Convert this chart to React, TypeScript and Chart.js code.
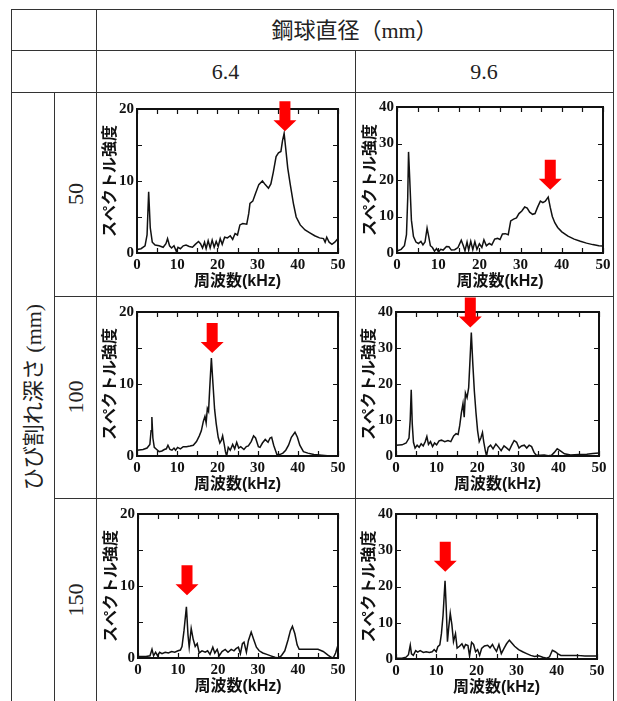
import React, { useEffect, useRef } from "react";
import { Chart, registerables } from "chart.js";

Chart.register(...registerables);

// ---------- texts / categories ----------
const HEADER_TITLE = "鋼球直径（mm）";
const ROW_TITLE = "ひび割れ深さ (mm)";
const BALL_DIAMETERS = ["6.4", "9.6"];
const CRACK_DEPTHS = ["50", "100", "150"];
const X_TITLE = "周波数(kHz)";
const Y_TITLE = "スペクトル強度";

// ---------- axes ----------
const X_MIN = 0;
const X_MAX = 50;
const X_STEP = 10;
const Y_STEP = 10;
const X_MINOR_TICKS = [0, 5, 10, 15, 20, 25, 30, 35, 40, 45, 50];
const Y_MINOR_TICKS_20 = [0, 5, 10, 15, 20];
const Y_MINOR_TICKS_40 = [0, 10, 20, 30, 40];

// ---------- series: [frequency kHz, spectral intensity] ----------
const spec_d50_b64: [number, number][] = [
  [0, 0.5], [1, 0.6], [2, 1.0], [2.5, 2.5], [2.9, 8.5], [3.3, 3.5], [3.8, 1.5], [4.5, 1.1], [5.5, 1.0],
  [6.5, 0.8], [7.2, 1.3], [7.6, 2.0], [8.1, 1.0], [8.6, 0.7], [9.2, 1.0], [9.8, 0.2], [10.2, 0.8],
  [10.8, 0.6], [11.5, 1.0], [12.2, 1.1], [13, 0.9], [13.8, 0.8], [14.5, 1.2], [15.3, 1.6], [15.8, 1.3],
  [16.3, 0.7], [16.8, 1.5], [17.2, 0.6], [17.7, 1.7], [18.2, 0.7], [18.7, 1.8], [19.2, 0.8], [19.7, 1.6],
  [20.2, 0.9], [20.7, 2.0], [21.2, 1.2], [21.8, 2.2], [22.5, 2.1], [23.2, 2.4], [23.8, 1.9], [24.4, 2.7],
  [25, 2.5], [25.6, 3.9], [26.3, 4.1], [27.3, 4.0], [27.8, 5.5], [28.1, 6.9], [28.8, 7.2], [29.5, 8.3],
  [30.3, 9.5], [31.2, 10.0], [31.9, 9.5], [32.7, 9.0], [33.3, 9.6], [33.9, 11.2], [34.6, 13.4],
  [35.2, 13.9], [35.8, 14.1], [36.2, 15.6], [36.6, 16.6], [37.0, 14.5], [37.5, 11.8], [38.1, 9.6],
  [38.9, 6.9], [39.6, 5.0], [40.6, 3.9], [41.8, 3.2], [43.0, 2.8], [44.2, 2.4], [45.4, 2.1], [46.4, 2.0],
  [46.8, 1.5], [47.2, 2.2], [47.8, 1.5], [48.5, 1.2], [49.2, 1.5], [50, 2.0],
];

const spec_d50_b96: [number, number][] = [
  [0, 0.5], [1, 1.0], [1.8, 2.0], [2.3, 5], [2.6, 15], [2.8, 27.7], [3.1, 20], [3.5, 9], [4.0, 4.5],
  [4.6, 3.0], [5.2, 2.6], [5.8, 3.2], [6.3, 2.2], [6.8, 3.0], [7.3, 6.8], [7.7, 4.5], [8.1, 2.0],
  [8.6, 1.5], [9.1, 0.5], [9.6, 1.2], [10.1, 0.3], [10.6, 1.0], [11.2, 0.8], [12.0, 1.8], [12.6, 1.7],
  [13.2, 0.8], [14.0, 0.9], [14.8, 1.5], [15.6, 3.5], [16.1, 2.0], [16.5, 0.6], [17.0, 3.0], [17.4, 0.8],
  [17.9, 3.2], [18.4, 0.9], [18.9, 3.1], [19.4, 1.0], [20.0, 2.5], [20.6, 1.5], [21.1, 3.6], [21.7, 2.0],
  [22.4, 2.6], [23.0, 2.2], [23.7, 3.8], [24.4, 4.0], [25.0, 3.7], [25.6, 5.2], [26.3, 5.3], [27.0, 5.0],
  [27.6, 8.8], [28.3, 9.3], [29.0, 9.6], [29.6, 10.8], [30.3, 11.5], [31.0, 12.6], [31.6, 12.3],
  [32.2, 11.2], [32.9, 10.6], [33.5, 10.8], [34.1, 12.5], [34.8, 14.2], [35.4, 13.8], [36.0, 14.2],
  [36.7, 15.3], [37.2, 12.5], [37.7, 10.0], [38.3, 8.3], [39.0, 7.0], [40.0, 5.8], [41.5, 4.6],
  [43.0, 3.8], [44.5, 3.2], [46.0, 2.7], [47.5, 2.3], [49.0, 2.0], [50, 1.9],
];

const spec_d100_b64: [number, number][] = [
  [0, 0.8], [1.5, 0.9], [2.5, 1.1], [3.2, 1.6], [3.5, 3.5], [3.7, 5.4], [3.95, 2.5], [4.3, 1.2],
  [4.9, 0.9], [5.5, 0.6], [6.2, 0.7], [6.8, 0.9], [7.3, 1.0], [7.7, 1.5], [8.2, 0.9], [8.7, 0.8],
  [9.2, 1.1], [9.6, 0.8], [10.1, 1.2], [10.8, 1.0], [11.5, 1.3], [12.3, 1.3], [13.2, 1.4], [14.0, 1.5],
  [14.8, 2.0], [15.5, 2.8], [16.0, 3.5], [16.5, 4.8], [16.9, 5.5], [17.2, 4.6], [17.5, 6.6], [17.8, 6.2],
  [18.1, 9.5], [18.5, 13.6], [18.9, 10.0], [19.3, 6.5], [19.7, 4.5], [20.2, 2.6], [20.6, 1.8],
  [21.0, 2.2], [21.3, 2.8], [21.7, 1.6], [22.0, 0.6], [22.3, 0.0], [22.7, 1.2], [23.2, 0.8], [23.8, 1.6],
  [24.3, 1.0], [24.8, 1.9], [25.3, 1.1], [25.8, 1.3], [26.6, 0.9], [27.2, 1.3], [27.7, 1.4], [28.4, 2.0],
  [29.0, 2.8], [29.5, 2.5], [30.2, 1.3], [30.6, 1.2], [31.2, 1.8], [31.9, 2.3], [32.6, 1.9], [33.1, 2.5],
  [33.5, 2.6], [34.0, 1.5], [34.8, 0.2], [35.5, 0.2], [36.3, 0.4], [37.0, 0.8], [37.7, 1.5], [38.4, 2.6],
  [39.3, 3.3], [39.9, 2.6], [40.5, 1.5], [41.4, 0.6], [42.5, 0.4], [44.0, 0.2], [46, 0.1], [48, 0.0],
  [50, 0.0],
];

const spec_d100_b96: [number, number][] = [
  [0, 3.0], [1.5, 3.1], [2.5, 3.6], [3.2, 5.0], [3.5, 10], [3.75, 18.4], [4.0, 9], [4.3, 3.8],
  [4.7, 2.2], [5.2, 3.0], [5.7, 2.4], [6.2, 3.4], [6.7, 2.8], [7.2, 4.0], [7.6, 5.4], [8.0, 3.2],
  [8.5, 4.0], [9.0, 2.6], [9.5, 3.6], [10.0, 3.1], [10.6, 4.2], [11.2, 4.4], [12.0, 4.0], [12.8, 4.3],
  [13.5, 4.0], [14.2, 5.6], [14.8, 6.2], [15.3, 6.0], [15.7, 8.5], [16.1, 12.0], [16.5, 14.6],
  [16.8, 10.8], [17.1, 17.5], [17.5, 16.2], [17.9, 19.0], [18.2, 26], [18.55, 34.3], [18.9, 26],
  [19.3, 18], [19.7, 12], [20.1, 7], [20.5, 4.0], [20.9, 5.0], [21.3, 6.5], [21.6, 4.0], [22.0, 1.5],
  [22.3, 0.0], [22.7, 2.4], [23.3, 3.0], [23.9, 2.0], [24.6, 3.3], [25.3, 2.4], [25.9, 1.5], [26.6, 2.8],
  [27.3, 2.2], [27.9, 1.6], [28.5, 3.0], [29.1, 4.3], [29.7, 3.8], [30.3, 2.2], [30.9, 2.8], [31.6, 3.0],
  [32.2, 2.2], [32.8, 3.0], [33.4, 2.6], [34.0, 1.0], [34.5, 0.3], [35.5, 0.2], [36.5, 0.3], [37.5, 0.1],
  [38.3, 0.2], [39.0, 1.0], [39.7, 2.0], [40.5, 1.4], [41.5, 0.6], [43.0, 0.3], [45.0, 0.4], [47.0, 0.5],
  [48.5, 0.7], [50, 0.8],
];

const spec_d150_b64: [number, number][] = [
  [0, 0.2], [2.0, 0.2], [3.0, 0.3], [3.5, 1.2], [3.9, 0.3], [4.4, 0.8], [4.9, 0.3], [5.4, 0.8],
  [6.0, 0.6], [6.8, 0.8], [7.6, 0.7], [8.4, 0.9], [9.2, 0.8], [10.0, 1.0], [10.6, 1.1], [11.0, 1.6],
  [11.5, 3.8], [12.1, 7.1], [12.5, 3.2], [12.8, 1.5], [13.3, 4.1], [13.8, 2.6], [14.3, 1.6], [14.8, 2.0],
  [15.3, 0.7], [16.0, 1.0], [16.8, 0.8], [17.4, 1.0], [18.0, 0.5], [18.7, 1.5], [19.2, 0.7], [19.8, 1.2],
  [20.3, 0.3], [21.0, 0.9], [21.8, 1.2], [22.5, 0.8], [23.3, 1.2], [24.0, 1.0], [24.5, 1.3], [25.1, 1.5],
  [25.6, 0.6], [26.1, 2.0], [26.5, 2.2], [27.1, 0.8], [27.6, 2.4], [28.3, 3.6], [28.9, 2.6], [29.6, 1.5],
  [30.3, 1.0], [31.2, 0.7], [32.2, 0.5], [33.2, 0.3], [34.2, 0.1], [35.0, 0.0], [35.8, 0.3], [36.7, 1.0],
  [37.5, 2.5], [38.1, 3.8], [38.6, 4.4], [39.2, 3.4], [39.8, 1.8], [40.3, 1.2], [41.5, 1.2], [43.0, 1.2],
  [45.0, 1.2], [46.3, 0.9], [47.5, 0.4], [48.3, 0.1], [48.8, 0.0], [49.4, 0.7], [50, 1.8],
];

const spec_d150_b96: [number, number][] = [
  [0, 0.2], [1.5, 0.2], [2.5, 0.5], [3.1, 1.2], [3.55, 3.8], [3.85, 1.4], [4.3, 1.0], [4.9, 2.3],
  [5.4, 1.9], [6.0, 2.3], [6.8, 1.8], [7.5, 2.0], [8.3, 1.8], [9.0, 2.0], [9.5, 2.6], [10.0, 2.0],
  [10.4, 3.4], [10.9, 3.9], [11.3, 7.0], [11.7, 12.0], [12.2, 21.6], [12.5, 14.0], [12.8, 4.8],
  [13.1, 8.5], [13.5, 12.6], [13.9, 9.5], [14.3, 4.8], [14.8, 7.0], [15.2, 3.0], [15.8, 3.5], [16.4, 4.2],
  [16.9, 3.0], [17.3, 4.0], [17.9, 3.7], [18.3, 0.8], [18.8, 4.6], [19.3, 4.0], [19.8, 2.0], [20.3, 2.6],
  [20.8, 1.0], [21.3, 2.9], [22.0, 3.6], [22.8, 3.8], [23.4, 3.1], [24.0, 4.0], [24.5, 2.9], [25.0, 2.1],
  [25.6, 4.0], [26.2, 1.5], [26.9, 3.0], [27.5, 4.2], [28.2, 5.2], [28.8, 4.4], [29.5, 3.5], [30.5, 2.6],
  [31.5, 2.0], [32.5, 1.5], [33.5, 1.0], [34.5, 0.7], [35.5, 0.9], [36.5, 0.5], [37.5, 0.2], [38.2, 0.6],
  [38.9, 2.4], [39.6, 2.0], [40.3, 1.4], [41.0, 1.0], [43.0, 1.0], [45.0, 1.0], [47.0, 0.8], [48.5, 0.8],
  [50, 0.8],
];

// red arrows: [frequency kHz at arrow, intensity at arrow tip]
const arrow_d50_b64 = [36.8, 16.9];
const arrow_d50_b96 = [37.2, 17.3];
const arrow_d100_b64 = [18.7, 14.3];
const arrow_d100_b96 = [18.3, 35.7];
const arrow_d150_b64 = [12.25, 8.7];
const arrow_d150_b96 = [12.25, 24.1];

// y maxima per column
const Y_MAX_BY_BALL = [20, 40];

// ---------- layout (page pixels) ----------
const PAD_L = 40; // y-axis band
const PAD_R = 12;
const PAD_T = 24;
const PAD_B = 42; // x-axis band

const PANELS = [
  { data: spec_d50_b64, yMax: Y_MAX_BY_BALL[0], yMinor: Y_MINOR_TICKS_20, arrow: arrow_d50_b64, plot: [137, 109, 338, 253] },
  { data: spec_d50_b96, yMax: Y_MAX_BY_BALL[1], yMinor: Y_MINOR_TICKS_40, arrow: arrow_d50_b96, plot: [397, 107, 603, 253] },
  { data: spec_d100_b64, yMax: Y_MAX_BY_BALL[0], yMinor: Y_MINOR_TICKS_20, arrow: arrow_d100_b64, plot: [137, 312, 338, 456] },
  { data: spec_d100_b96, yMax: Y_MAX_BY_BALL[1], yMinor: Y_MINOR_TICKS_40, arrow: arrow_d100_b96, plot: [396, 312, 599, 456] },
  { data: spec_d150_b64, yMax: Y_MAX_BY_BALL[0], yMinor: Y_MINOR_TICKS_20, arrow: arrow_d150_b64, plot: [138, 514, 338, 658] },
  { data: spec_d150_b96, yMax: Y_MAX_BY_BALL[1], yMinor: Y_MINOR_TICKS_40, arrow: arrow_d150_b96, plot: [396, 514, 597, 659] },
];

const TICK_FONT = { family: '"Liberation Serif", "Times New Roman", serif', weight: "bold" as const, size: 15 };
const TITLE_FONT = { family: '"Liberation Sans", "Noto Sans CJK JP", sans-serif', weight: "bold" as const, size: 16 };

const framePlugin = {
  id: "frameTicks",
  afterDatasetsDraw(chart: any, _args: any, opts: any) {
    const { ctx, chartArea, scales } = chart;
    const { left, right, top, bottom } = chartArea;
    const xs = scales.x;
    const ys = scales.y;
    ctx.save();
    ctx.strokeStyle = "#111";
    ctx.lineWidth = 1.2;
    ctx.beginPath();
    for (const v of opts.xMinor) {
      const px = Math.round(xs.getPixelForValue(v)) + 0.5;
      ctx.moveTo(px, bottom);
      ctx.lineTo(px, bottom - 5);
      ctx.moveTo(px, top);
      ctx.lineTo(px, top + 5);
    }
    for (const v of opts.yMinor) {
      const py = Math.round(ys.getPixelForValue(v)) + 0.5;
      ctx.moveTo(left, py);
      ctx.lineTo(left + 5, py);
      ctx.moveTo(right, py);
      ctx.lineTo(right - 5, py);
    }
    ctx.stroke();
    ctx.lineWidth = 2;
    ctx.strokeRect(left, top, right - left, bottom - top);

    // red arrow pointing down at the peak
    const ax = xs.getPixelForValue(opts.arrow[0]);
    const ay = ys.getPixelForValue(opts.arrow[1]);
    const headH = 11;
    const headW = 11.5;
    const shaftW = 5.5;
    const total = 30;
    ctx.fillStyle = "#ff0000";
    ctx.beginPath();
    ctx.moveTo(ax, ay);
    ctx.lineTo(ax - headW, ay - headH);
    ctx.lineTo(ax - shaftW, ay - headH);
    ctx.lineTo(ax - shaftW, ay - total);
    ctx.lineTo(ax + shaftW, ay - total);
    ctx.lineTo(ax + shaftW, ay - headH);
    ctx.lineTo(ax + headW, ay - headH);
    ctx.closePath();
    ctx.fill();
    ctx.restore();
  },
};

function Panel({ cfg }: { cfg: any }) {
  const ref = useRef<HTMLCanvasElement>(null);
  const [l, t, r, b] = cfg.plot;
  const cw = r - l + PAD_L + PAD_R;
  const ch = b - t + PAD_T + PAD_B;
  useEffect(() => {
    const chart = new Chart(ref.current as HTMLCanvasElement, {
      type: "line",
      data: {
        datasets: [
          {
            data: cfg.data.map(([x, y]: [number, number]) => ({ x, y })),
            borderColor: "#111",
            borderWidth: 1.5,
            pointRadius: 0,
            tension: 0,
            fill: false,
          },
        ],
      },
      options: {
        animation: false,
        responsive: false,
        maintainAspectRatio: false,
        devicePixelRatio: 1,
        events: [],
        layout: { padding: { left: 0, top: PAD_T, right: PAD_R, bottom: 0 } },
        plugins: {
          legend: { display: false },
          tooltip: { enabled: false },
          frameTicks: { xMinor: X_MINOR_TICKS, yMinor: cfg.yMinor, arrow: cfg.arrow },
        } as any,
        scales: {
          x: {
            type: "linear",
            min: X_MIN,
            max: X_MAX,
            grid: { display: false, drawTicks: false },
            border: { display: false },
            ticks: { stepSize: X_STEP, padding: 3, color: "#111", font: TICK_FONT, maxRotation: 0, autoSkip: false },
            title: { display: true, text: X_TITLE, color: "#111", font: TITLE_FONT, padding: { top: 0, bottom: 4 } },
            afterFit: (s: any) => {
              s.height = PAD_B;
            },
          },
          y: {
            type: "linear",
            min: 0,
            max: cfg.yMax,
            grid: { display: false, drawTicks: false },
            border: { display: false },
            ticks: { stepSize: Y_STEP, padding: 3, color: "#111", font: TICK_FONT, autoSkip: false },
            title: { display: true, text: Y_TITLE, color: "#111", font: TITLE_FONT, padding: { top: 4, bottom: 0 } },
            afterFit: (s: any) => {
              s.width = PAD_L;
            },
          },
        },
      },
      plugins: [framePlugin],
    });
    return () => chart.destroy();
  }, []);
  return (
    <canvas
      ref={ref}
      width={cw}
      height={ch}
      style={{ position: "absolute", left: l - PAD_L, top: t - PAD_T, width: cw, height: ch }}
    />
  );
}

const LINE_COLOR = "#333";
const TEXT_FONT = '"Liberation Serif", "Noto Sans CJK JP", serif';

function HLine({ y, x1, x2 }: { y: number; x1: number; x2: number }) {
  return <div style={{ position: "absolute", left: x1, top: y, width: x2 - x1 + 1, height: 1, background: LINE_COLOR }} />;
}
function VLine({ x, y1, y2 }: { x: number; y1: number; y2: number }) {
  return <div style={{ position: "absolute", left: x, top: y1, width: 1, height: y2 - y1, background: LINE_COLOR }} />;
}
function Label({ cx, cy, text, rotate, size }: { cx: number; cy: number; text: string; rotate?: boolean; size: number }) {
  return (
    <div
      style={{
        position: "absolute",
        left: cx,
        top: cy,
        transform: `translate(-50%, -50%)${rotate ? " rotate(-90deg)" : ""}`,
        whiteSpace: "pre",
        fontFamily: TEXT_FONT,
        fontSize: size,
        lineHeight: 1,
        color: "#222",
      }}
    >
      {text}
    </div>
  );
}

const COL_X = [11, 54, 96, 355, 613];
const ROW_Y = [9, 50, 92, 296, 498, 701];

export default function App() {
  return (
    <div style={{ position: "absolute", left: 0, top: 0, width: 617, height: 701, overflow: "hidden", background: "#fff" }}>
      {/* table lines */}
      <HLine y={ROW_Y[0]} x1={COL_X[0]} x2={COL_X[4]} />
      <HLine y={ROW_Y[1]} x1={COL_X[0]} x2={COL_X[4]} />
      <HLine y={ROW_Y[2]} x1={COL_X[0]} x2={COL_X[4]} />
      <HLine y={ROW_Y[3]} x1={COL_X[1]} x2={COL_X[4]} />
      <HLine y={ROW_Y[4]} x1={COL_X[1]} x2={COL_X[4]} />
      <VLine x={COL_X[0]} y1={ROW_Y[0]} y2={ROW_Y[5]} />
      <VLine x={COL_X[1]} y1={ROW_Y[2]} y2={ROW_Y[5]} />
      <VLine x={COL_X[2]} y1={ROW_Y[0]} y2={ROW_Y[5]} />
      <VLine x={COL_X[3]} y1={ROW_Y[1]} y2={ROW_Y[5]} />
      <VLine x={COL_X[4]} y1={ROW_Y[0]} y2={ROW_Y[5]} />

      {/* header texts */}
      <Label cx={(COL_X[2] + COL_X[4]) / 2} cy={(ROW_Y[0] + ROW_Y[1]) / 2 + 1} text={HEADER_TITLE} size={22} />
      <Label cx={(COL_X[2] + COL_X[3]) / 2} cy={(ROW_Y[1] + ROW_Y[2]) / 2 + 1} text={BALL_DIAMETERS[0]} size={22} />
      <Label cx={(COL_X[3] + COL_X[4]) / 2} cy={(ROW_Y[1] + ROW_Y[2]) / 2 + 1} text={BALL_DIAMETERS[1]} size={22} />
      <Label cx={(COL_X[0] + COL_X[1]) / 2 + 1} cy={(ROW_Y[2] + ROW_Y[5]) / 2} text={ROW_TITLE} rotate size={22} />
      {CRACK_DEPTHS.map((d, i) => (
        <Label key={d} cx={(COL_X[1] + COL_X[2]) / 2 + 1} cy={(ROW_Y[2 + i] + ROW_Y[3 + i]) / 2} text={d} rotate size={22} />
      ))}

      {PANELS.map((p, i) => (
        <Panel key={i} cfg={p} />
      ))}
    </div>
  );
}
